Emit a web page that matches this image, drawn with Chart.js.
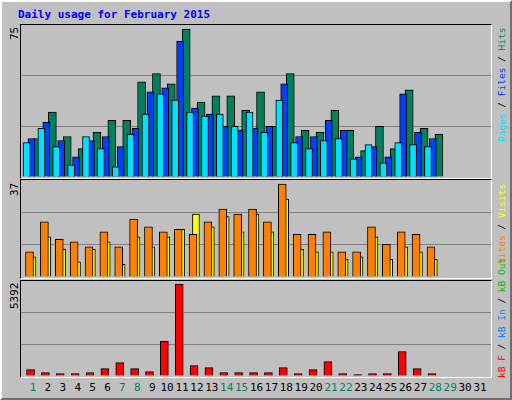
<!DOCTYPE html>
<html>
<head>
<meta charset="UTF-8">
<script src="https://cdn.jsdelivr.net/npm/chart.js@4"></script>
<style>
body{margin:0;width:512px;height:400px;background:#c0c0c0;position:relative;overflow:hidden;font-family:"DejaVu Sans Mono",monospace}
#frame{position:absolute;left:0;top:0;width:508px;height:396px;border-top:2px solid #fff;border-left:2px solid #fff;border-right:2px solid #707070;border-bottom:2px solid #707070}
.box{position:absolute;left:20px;width:470px;border:1px solid #000;border-right-color:#fff;border-bottom-color:#fff}
canvas{position:absolute}
.t{position:absolute;font-size:11px;white-space:nowrap}
.rl{position:absolute;font-size:9.5px;white-space:nowrap;transform-origin:0 0;transform:rotate(-90deg)}
</style>
</head>
<body>
<div id="frame"></div>
<div class="t" style="left:18px;top:8px;color:#0000ff;font-weight:bold">Daily usage for February 2015</div>
<div class="box" style="top:24px;height:153px"></div>
<div class="box" style="top:179px;height:98px"></div>
<div class="box" style="top:280px;height:96px"></div>
<canvas id="c1" style="left:21px;top:25px;width:470px;height:152px"></canvas>
<canvas id="c2" style="left:21px;top:180px;width:470px;height:97px"></canvas>
<canvas id="c3" style="left:21px;top:281px;width:470px;height:95px"></canvas>
<div class="rl" style="left:8px;top:40px;font-size:11px">75</div>
<div class="rl" style="left:8px;top:196px;font-size:11px">37</div>
<div class="rl" style="left:8px;top:309px;font-size:11px">5392</div>
<div class="rl" style="left:496px;top:142px"><span style="color:#00e0ff">Pages</span> / <span style="color:#0040ff">Files</span> / <span style="color:#00805c">Hits</span></div>
<div class="rl" style="left:496px;top:264px"><span style="color:#ff8000">Sites</span> / <span style="color:#ffff00">Visits</span></div>
<div class="rl" style="left:496px;top:378px"><span style="color:#ff0000">kB F</span> / <span style="color:#0080ff">kB In</span> / <span style="color:#00c000">kB Out</span></div>
<div id="days"></div>
<script>
const days = Array.from({length: 31}, (_, i) => i + 1)
const weekend = [1, 7, 8, 14, 15, 21, 22, 28, 29]
const hits  = [19,32,20,14,22,28,28,47,51,46,73,37,40,40,33,42,25,51,23,22,33,23,13,25,14,43,24,21]
const files = [19,27,18,10,18,20,15,24,42,44,67,34,31,25,23,24,25,46,20,20,28,23,10,15,10,41,22,19]
const pages = [17,24,15,6,20,14,5,21,31,41,38,32,30,31,25,32,22,38,17,14,18,19,9,16,7,17,16,15]
const visits = [8,16,11,6,11,14,5,16,12,16,19,25,20,24,18,25,18,31,11,10,10,7,8,16,7,12,10,7]
const sites  = [10,22,15,14,12,18,12,23,20,18,19,17,22,27,25,27,22,37,17,17,18,10,10,20,13,18,17,12]
const kbF = [374,197,138,138,197,433,787,433,256,2027,5392,610,492,197,197,197,197,492,138,374,846,138,79,138,138,1436,433,138]

// day labels
const dl = document.getElementById('days')
days.forEach(d => {
	const e = document.createElement('div')
	e.className = 't'
	e.textContent = d
	e.style.top = '381px'
	e.style.width = '20px'
	e.style.textAlign = 'center'
	e.style.left = (33 + 14.9 * (d - 1) - 10) + 'px'
	e.style.color = weekend.includes(d) ? '#008060' : '#000'
	dl.appendChild(e)
})

const pts = (vals, off) => vals.map((v, i) => ({x: i + 1 + off, y: v}))
const ds = (vals, off, color, w, order) => ({data: pts(vals, off), backgroundColor: color, borderColor: '#000', borderWidth: 1, barThickness: w, borderSkipped: 'bottom', order: order})

const panel = (id, datasets, max) => new Chart(document.getElementById(id), {
	type: 'bar',
	data: {datasets: datasets},
	options: {
		responsive: false, animation: false,
		layout: {padding: 0},
		plugins: {legend: {display: false}, tooltip: {enabled: false}},
		scales: {
			x: {type: 'linear', min: 0.128, max: 31.74, offset: false, display: false},
			y: {min: 0, max: max, ticks: {display: false, stepSize: max / 3}, border: {display: false},
				grid: {color: c => (c.tick.value > 0 && c.tick.value < max) ? '#808080' : 'rgba(0,0,0,0)', lineWidth: 1, drawTicks: false}}
		}
	}
})

for (const id of ['c1','c2','c3']) {
	const c = document.getElementById(id)
	c.width = parseInt(c.style.width); c.height = parseInt(c.style.height)
}

panel('c1', [ds(hits, -0.30, '#00805c', 8, 2), ds(files, -0.17, '#0040ff', 7, 1), ds(pages, -0.03, '#00e0ff', 7, 0)], 75)
panel('c2', [ds(visits, -0.34, '#ffff00', 7, 1), ds(sites, -0.03, '#ff8000', 8, 0)], 38.6)
panel('c3', [ds(kbF, -0.23, '#ff0000', 8, 0)], 5392 * 95 / 92)
</script>
</body>
</html>
